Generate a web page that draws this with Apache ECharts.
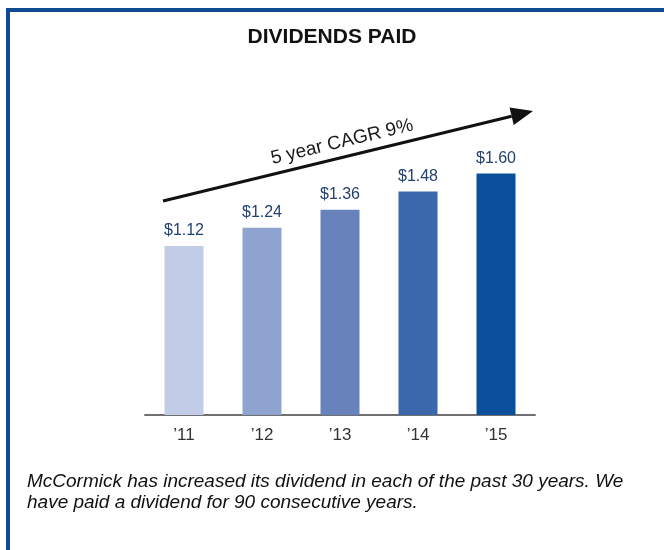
<!DOCTYPE html>
<html>
<head>
<meta charset="utf-8">
<title>Dividends Paid</title>
<script src="https://cdn.jsdelivr.net/npm/echarts@6/dist/echarts.min.js"></script>
<style>
    html, body { margin: 0; padding: 0; background: #fff; }
    #chart { width: 664px; height: 550px; }
</style>
</head>
<body>
<div id="chart"></div>
<script>
// data
const years = ['\u201911', '\u201912', '\u201913', '\u201914', '\u201915'];
const dividends = [1.12, 1.24, 1.36, 1.48, 1.60];
const cagrText = '5 year CAGR 9%';
const captionLines = [
    'McCormick has increased its dividend in each of the past 30 years. We',
    'have paid a dividend for 90 consecutive years.'
];

// bar shades, light to dark
const barColors = ['#c3cce6', '#8fa3d0', '#6882bc', '#3b67ac', '#0a4f9b'];
const FONT = '"Liberation Sans", Arial, sans-serif';

const myChart = echarts.init(document.getElementById('chart'));

// arrow over the bars (pixel space, decoration only)
const arrowStart = [163, 201];
const arrowEnd = [533, 111];
const ang = Math.atan2(arrowEnd[1] - arrowStart[1], arrowEnd[0] - arrowStart[0]);
const headLen = 22, headHalf = 9;
const backX = arrowEnd[0] - headLen * Math.cos(ang);
const backY = arrowEnd[1] - headLen * Math.sin(ang);
const headPts = [
    arrowEnd,
    [backX + headHalf * Math.sin(ang), backY - headHalf * Math.cos(ang)],
    [backX - headHalf * Math.sin(ang), backY + headHalf * Math.cos(ang)]
];

const option = {
    animation: false,
    backgroundColor: '#fff',
    title: {
        text: 'DIVIDENDS PAID',
        left: 'center',
        top: 22,
        textStyle: {
            color: '#111',
            fontSize: 21,
            fontWeight: 'bold',
            fontFamily: FONT
        }
    },
    grid: {
        left: 145,
        right: 129,
        top: 113,
        bottom: 135
    },
    xAxis: {
        type: 'category',
        data: years,
        axisLine: { lineStyle: { color: '#707070', width: 2 } },
        axisTick: { show: false },
        axisLabel: {
            color: '#333',
            fontSize: 17,
            fontFamily: FONT,
            margin: 12
        }
    },
    yAxis: {
        type: 'value',
        min: 0,
        max: 2,
        show: false
    },
    series: [
        {
            type: 'bar',
            barWidth: 39,
            data: dividends.map((v, i) => ({
                value: v,
                itemStyle: { color: barColors[i] }
            })),
            label: {
                show: true,
                position: 'top',
                distance: 7,
                color: '#23426f',
                fontSize: 16,
                fontFamily: FONT,
                formatter: (p) => '$' + p.value.toFixed(2)
            }
        }
    ],
    graphic: [
        // blue frame (top and left edges)
        { type: 'rect', shape: { x: 6, y: 8, width: 658, height: 4 }, style: { fill: '#0f4a92' } },
        { type: 'rect', shape: { x: 6, y: 8, width: 4, height: 542 }, style: { fill: '#0f4a92' } },
        {
            type: 'line',
            shape: { x1: arrowStart[0], y1: arrowStart[1], x2: backX, y2: backY },
            style: { stroke: '#111', lineWidth: 3 }
        },
        {
            type: 'polygon',
            shape: { points: headPts },
            style: { fill: '#111' }
        },
        {
            type: 'text',
            x: 342,
            y: 142,
            rotation: 0.236,
            style: {
                text: cagrText,
                fill: '#1a1a1a',
                fontSize: 19,
                fontFamily: FONT,
                align: 'center',
                verticalAlign: 'middle'
            }
        },
        {
            type: 'text',
            left: 27,
            top: 471,
            style: {
                text: captionLines.join('\n'),
                fill: '#111',
                fontSize: 19,
                fontStyle: 'italic',
                fontFamily: FONT,
                lineHeight: 21
            }
        }
    ]
};

myChart.setOption(option);
</script>
</body>
</html>
